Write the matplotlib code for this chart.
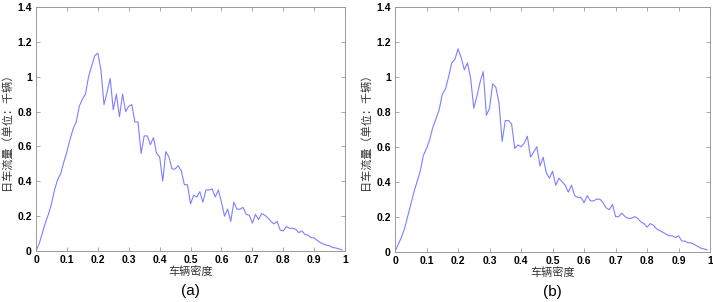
import numpy as np
import matplotlib
matplotlib.use("Agg")
import matplotlib.pyplot as plt

plt.rcParams['font.family'] = ['Liberation Sans', 'Noto Sans CJK SC', 'DejaVu Sans']

# vehicle density, 0.00 .. 0.99
density = [round(i * 0.01, 2) for i in range(100)]

flow_a = [0.00, 0.04, 0.10, 0.16, 0.21, 0.27, 0.35, 0.41, 0.445, 0.51,
          0.57, 0.64, 0.70, 0.74, 0.83, 0.87, 0.90, 1.00, 1.06, 1.12,
          1.135, 1.04, 0.84, 0.91, 0.99, 0.81, 0.90, 0.77, 0.90, 0.80,
          0.83, 0.84, 0.74, 0.74, 0.56, 0.66, 0.66, 0.61, 0.65, 0.56,
          0.54, 0.40, 0.57, 0.54, 0.47, 0.47, 0.49, 0.46, 0.38, 0.38,
          0.27, 0.32, 0.31, 0.34, 0.28, 0.35, 0.35, 0.355, 0.31, 0.35,
          0.28, 0.20, 0.24, 0.17, 0.28, 0.24, 0.24, 0.25, 0.21, 0.205,
          0.16, 0.21, 0.18, 0.215, 0.205, 0.19, 0.17, 0.155, 0.17, 0.12,
          0.115, 0.14, 0.13, 0.13, 0.125, 0.105, 0.115, 0.095, 0.09, 0.077,
          0.075, 0.06, 0.048, 0.04, 0.033, 0.03, 0.02, 0.017, 0.012, 0.005]

flow_b = [0.00, 0.04, 0.08, 0.13, 0.20, 0.27, 0.34, 0.40, 0.46, 0.55,
          0.59, 0.64, 0.71, 0.76, 0.81, 0.90, 0.93, 1.00, 1.08, 1.10,
          1.16, 1.11, 1.04, 1.08, 0.99, 0.82, 0.89, 0.97, 1.03, 0.78,
          0.82, 0.96, 0.94, 0.85, 0.63, 0.75, 0.75, 0.73, 0.59, 0.61,
          0.60, 0.62, 0.66, 0.54, 0.57, 0.60, 0.49, 0.54, 0.45, 0.42,
          0.46, 0.38, 0.42, 0.40, 0.38, 0.34, 0.38, 0.32, 0.31, 0.31,
          0.28, 0.32, 0.29, 0.29, 0.30, 0.30, 0.28, 0.25, 0.24, 0.27,
          0.20, 0.20, 0.22, 0.20, 0.19, 0.19, 0.20, 0.19, 0.17, 0.16,
          0.14, 0.16, 0.15, 0.13, 0.12, 0.11, 0.10, 0.09, 0.09, 0.08,
          0.09, 0.06, 0.06, 0.05, 0.05, 0.04, 0.03, 0.02, 0.015, 0.01]

xticks = [0, 0.1, 0.2, 0.3, 0.4, 0.5, 0.6, 0.7, 0.8, 0.9, 1]
xticklabels = ['0', '0.1', '0.2', '0.3', '0.4', '0.5', '0.6', '0.7', '0.8', '0.9', '1']
yticks = [0, 0.2, 0.4, 0.6, 0.8, 1.0, 1.2, 1.4]
yticklabels = ['0', '0.2', '0.4', '0.6', '0.8', '1', '1.2', '1.4']

fig = plt.figure(figsize=(7.13, 3.02), dpi=100)
ax1 = fig.add_axes([0.0505, 0.169, 0.4335, 0.808])
ax2 = fig.add_axes([0.554, 0.167, 0.442, 0.810])

for ax, flow, tag in [(ax1, flow_a, '(a)'), (ax2, flow_b, '(b)')]:
    ax.plot(density, flow, color='#7f7fff', lw=0.8)
    ax.set_xlim(0, 1)
    ax.set_ylim(0, 1.4)
    ax.set_xticks(xticks)
    ax.set_xticklabels(xticklabels)
    ax.set_yticks(yticks)
    ax.set_yticklabels(yticklabels)
    ax.tick_params(direction='in', length=3, width=0.6, color='#999999',
                   top=True, right=True, labelsize=7.5, pad=3)
    for lab in ax.get_xticklabels() + ax.get_yticklabels():
        lab.set_fontweight('bold')
    for sp in ax.spines.values():
        sp.set_color('#999999')
        sp.set_linewidth(0.7)
    ax.set_xlabel('车辆密度', fontsize=8, color='#333333',
                  family=['Noto Sans CJK SC', 'DejaVu Sans'], labelpad=1)
    ax.set_ylabel('日车流量（单位：千辆）', fontsize=8, color='#333333',
                  family=['Noto Sans CJK SC', 'DejaVu Sans'], labelpad=4)
    ax.text(0.5, -0.165, tag, transform=ax.transAxes, ha='center', va='center',
            fontsize=11)

fig.savefig('out.png', dpi=100)
